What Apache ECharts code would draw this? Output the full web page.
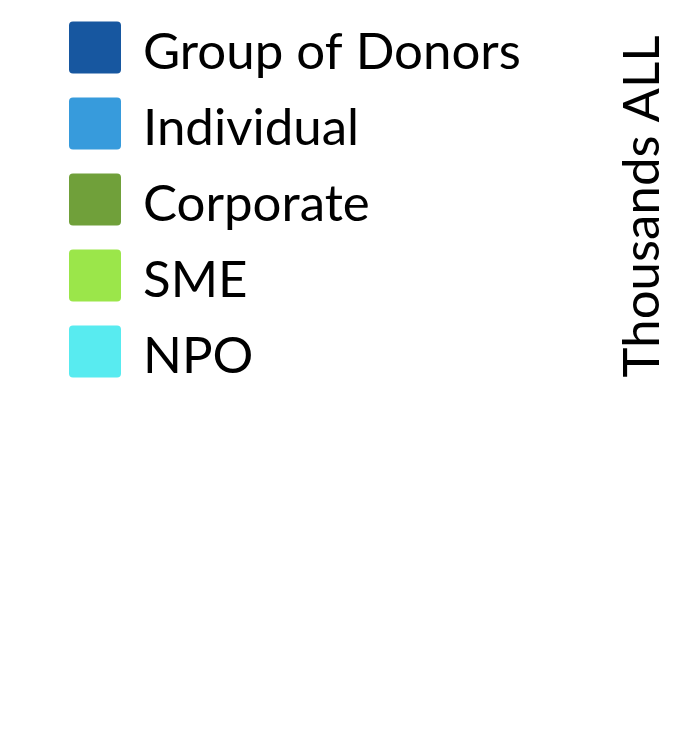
<!DOCTYPE html>
<html>
<head>
<meta charset="utf-8">
<script src="https://cdn.jsdelivr.net/npm/echarts@6/dist/echarts.min.js" type="text/javascript"></script>
<style>
    html, body { margin: 0; padding: 0; background: #fff; }
    #donorChart { width: 679px; height: 729px; }
</style>
</head>
<body>
<div id="donorChart"></div>
<script type="text/javascript">
    // series names and colours, data is empty in the source picture
    var seriesNames = ['Group of Donors', 'Individual', 'Corporate', 'SME', 'NPO'];
    var seriesColors = ['#1757a0', '#379bdc', '#70a03a', '#9be64a', '#58ebf0'];
    var categories = [];
    var groupData = [];
    var individualData = [];
    var corporateData = [];
    var smeData = [];
    var npoData = [];
    var allData = [groupData, individualData, corporateData, smeData, npoData];

    var series = [];
    for (var i = 0; i < seriesNames.length; i++) {
        series.push({
            name: seriesNames[i],
            type: 'bar',
            stack: 'total',
            itemStyle: { color: seriesColors[i] },
            data: allData[i]
        });
    }

    var option = {
        animation: false,
        legend: {
            orient: 'vertical',
            left: 64,
            top: 12,
            itemWidth: 52,
            itemHeight: 52,
            itemGap: 15,
            icon: 'path://M4,0 L48,0 Q52,0 52,4 L52,48 Q52,52 48,52 L4,52 Q0,52 0,48 L0,4 Q0,0 4,0 Z',
            formatter: '{t|{name}}',
            textStyle: {
                color: '#000',
                rich: {
                    t: {
                        fontFamily: 'Lato',
                        fontSize: 51,
                        lineHeight: 52,
                        color: '#000',
                        padding: [10, 0, 0, 17]
                    }
                }
            },
            data: seriesNames
        },
        grid: {
            left: 20,
            right: 79,
            top: 35,
            bottom: 351
        },
        xAxis: {
            type: 'category',
            data: categories,
            show: false
        },
        yAxis: {
            type: 'value',
            position: 'right',
            name: 'Thousands ALL',
            nameLocation: 'middle',
            nameRotate: 90,
            nameGap: 17,
            nameTextStyle: {
                fontFamily: 'Lato',
                fontSize: 51,
                color: '#000'
            },
            axisLine: { show: false },
            axisTick: { show: false },
            axisLabel: { show: false },
            splitLine: { show: false }
        },
        series: series
    };

    var donorChart = echarts.init(document.getElementById('donorChart'));
    donorChart.setOption(option);
</script>
</body>
</html>
